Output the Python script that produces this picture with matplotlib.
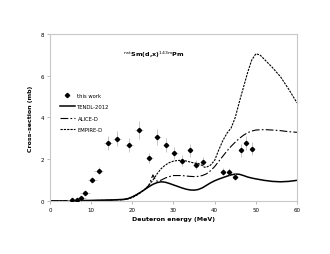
import matplotlib
matplotlib.use("Agg")
import matplotlib.pyplot as plt
from matplotlib.lines import Line2D

# Experimental data (this work)
exp_e = [5.4, 6.5, 7.6, 8.5, 10.3, 11.8, 14.1, 16.2, 19.1, 21.6, 24.1, 26.1,
         28.2, 30.2, 32.1, 33.9, 35.5, 37.2, 42.0, 43.5, 45.0, 46.3, 47.7, 49.0]
exp_cs = [0.05, 0.06, 0.14, 0.40, 1.02, 1.46, 2.77, 2.99, 2.69, 3.41, 2.06, 3.06,
          2.70, 2.29, 1.94, 2.43, 1.74, 1.87, 1.41, 1.41, 1.17, 2.42, 2.78, 2.51]
exp_dcs = [0.01, 0.01, 0.02, 0.05, 0.13, 0.18, 0.35, 0.37, 0.33, 0.42, 0.26, 0.38,
           0.34, 0.29, 0.25, 0.31, 0.22, 0.24, 0.18, 0.18, 0.15, 0.31, 0.35, 0.32]
exp_de = [1.2, 1.2, 1.2, 1.1, 1.1, 1.1, 1.0, 1.0, 1.0, 0.9, 0.9, 0.9,
          0.8, 0.8, 0.8, 0.7, 0.7, 0.7, 0.6, 0.6, 0.6, 0.5, 0.5, 0.5]

# TENDL-2012
tendl_e = [0, 5, 10, 15, 18, 19, 20, 21, 22, 23, 24, 25, 26, 27, 28, 29, 30, 31, 32,
           33, 34, 35, 36, 37, 38, 39, 40, 41, 42, 43, 44, 45, 46, 47, 48, 49, 50,
           52, 54, 56, 58, 60]
tendl_cs = [0.0, 0.01, 0.03, 0.05, 0.08, 0.12, 0.2, 0.3, 0.42, 0.55, 0.68, 0.8, 0.88,
            0.92, 0.9, 0.84, 0.77, 0.7, 0.63, 0.57, 0.53, 0.52, 0.55, 0.63, 0.75, 0.87,
            0.97, 1.05, 1.12, 1.19, 1.25, 1.29, 1.28, 1.22, 1.15, 1.1, 1.06, 0.99, 0.94,
            0.92, 0.94, 0.99]

# ALICE-D
alice_e = [0, 10, 15, 18, 20, 22, 23, 24, 24.5, 25, 25.5, 26, 27, 28, 29, 30, 32, 34,
           35, 36, 37, 38, 39, 40, 41, 42, 43, 44, 45, 46, 47, 48, 49, 50, 52, 54,
           56, 58, 60]
alice_cs = [0.0, 0.02, 0.04, 0.07, 0.17, 0.42, 0.55, 0.75, 1.0, 1.25, 1.05, 0.95, 1.0,
            1.1, 1.17, 1.22, 1.22, 1.18, 1.17, 1.18, 1.22, 1.3, 1.45, 1.65, 1.9, 2.15,
            2.4, 2.62, 2.82, 3.0, 3.15, 3.27, 3.35, 3.4, 3.42, 3.4, 3.37, 3.32, 3.29]

# EMPIRE-D
empire_e = [0, 10, 15, 18, 19, 20, 21, 22, 23, 24, 25, 26, 27, 28, 29, 30, 31, 32, 33,
            34, 35, 36, 37, 37.5, 38, 39, 40, 41, 42, 43, 44, 45, 46, 47, 48, 49, 50,
            51, 52, 54, 56, 58, 60]
empire_cs = [0.0, 0.02, 0.04, 0.07, 0.1, 0.17, 0.27, 0.4, 0.55, 0.75, 1.0, 1.3, 1.55,
             1.72, 1.84, 1.91, 1.94, 1.95, 1.92, 1.87, 1.82, 1.8, 1.7, 1.62, 1.62, 1.72,
             1.95, 2.45, 2.9, 3.25, 3.5, 4.0, 4.75, 5.45, 6.15, 6.75, 7.05, 7.0, 6.8,
             6.4, 5.95, 5.35, 4.7]

xticks = [0, 10, 20, 30, 40, 50, 60]
yticks = [0, 2, 4, 6, 8]

fig = plt.figure(figsize=(3.3, 2.55), dpi=100)
ax = fig.add_axes([0.1515, 0.2078, 0.7485, 0.655])

ax.errorbar(exp_e, exp_cs, yerr=exp_dcs, xerr=exp_de, fmt='D', ms=2.2,
            mfc='black', mec='black', ecolor='#b0b0b0', elinewidth=0.5,
            capsize=0, zorder=5)
l1, = ax.plot(tendl_e, tendl_cs, color='black', lw=1.1, label='TENDL-2012')
l2, = ax.plot(alice_e, alice_cs, color='black', lw=0.8, ls=(0, (7, 2, 1.5, 2)),
              label='ALICE-D')
l3, = ax.plot(empire_e, empire_cs, color='black', lw=0.8, ls=(0, (2, 1)),
              label='EMPIRE-D')
m0 = Line2D([], [], marker='D', ms=2.2, color='black', ls='none', label='this work')

ax.set_xlim(0, 60)
ax.set_ylim(0, 8)
ax.set_xticks(xticks)
ax.set_yticks(yticks)
ax.tick_params(labelsize=4, length=2, width=0.5, color='#a0a0a0', pad=2)
for s in ax.spines.values():
    s.set_color('#c8c8c8')
    s.set_linewidth(0.8)

ax.set_xlabel('Deuteron energy (MeV)', fontsize=4.5, fontweight='bold', labelpad=3)
ax.set_ylabel('Cross-section (mb)', fontsize=4.5, fontweight='bold', labelpad=6)

ax.text(0.42, 0.88, r'$^{\mathrm{nat}}$Sm(d,x)$^{143\mathrm{m}}$Pm',
        transform=ax.transAxes, ha='center', va='center', fontsize=4.6,
        fontweight='bold')

ax.legend(handles=[m0, l1, l2, l3], loc='upper left', bbox_to_anchor=(0.03, 0.66),
          frameon=False, fontsize=3.8, handlelength=3.0, handletextpad=0.4,
          labelspacing=1.2, borderaxespad=0)

fig.savefig('out.png', dpi=100)
